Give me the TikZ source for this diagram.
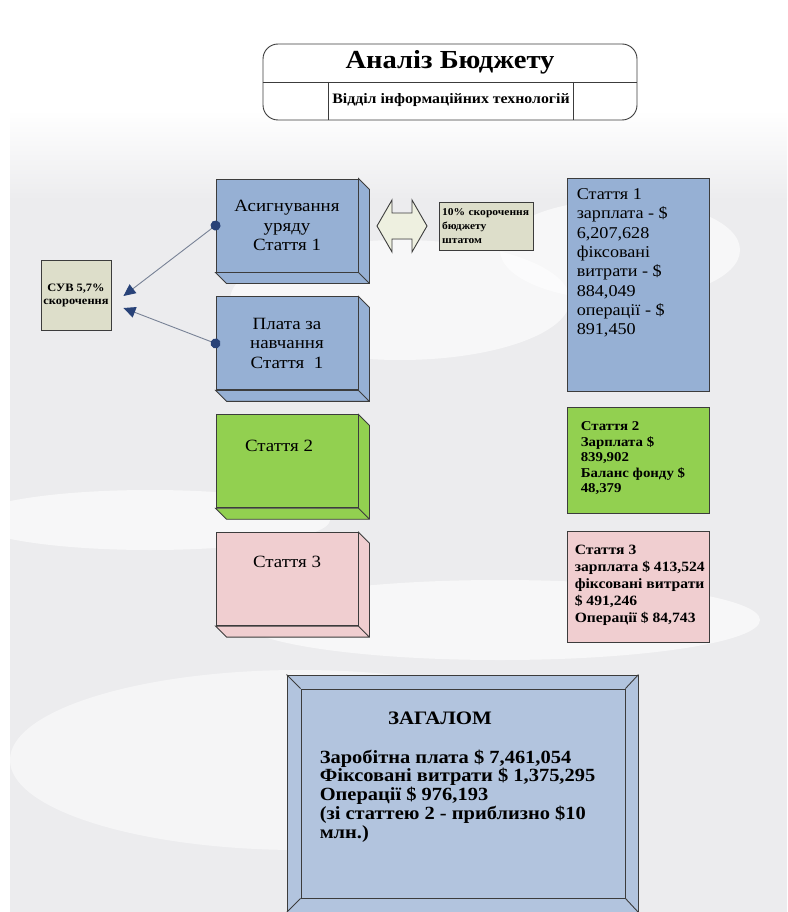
\documentclass[tikz,border=0pt]{standalone}
\usepackage{fontspec}
\setmainfont{Liberation Serif}[FakeStretch=1.1]
\usetikzlibrary{positioning,arrows.meta}

\definecolor{slabblue}{RGB}{150,176,212}
\definecolor{slabgreen}{RGB}{146,208,80}
\definecolor{slabpink}{RGB}{240,206,208}
\definecolor{notekhaki}{RGB}{221,222,202}
\definecolor{arrowfill}{RGB}{238,240,224}
\definecolor{totalblue}{RGB}{178,196,222}
\definecolor{navy}{RGB}{40,66,120}
\definecolor{edgegray}{RGB}{60,60,60}
\definecolor{linkgray}{RGB}{120,130,150}
\definecolor{cloud}{RGB}{236,236,238}

\begin{document}
\begin{tikzpicture}[
  x=1pt, y=-1pt,
  edge/.style={draw=edgegray, line width=0.9pt},
  slab/.style={edge, minimum width=142pt, minimum height=93pt,
               inner sep=0pt, align=center,
               font=\fontsize{17.2}{19.5}\selectfont},
  infobox/.style={edge, minimum width=142pt, inner sep=0pt},
  infotext/.style={inner sep=0pt, align=left},
  note/.style={edge, fill=notekhaki, inner sep=2pt, align=left,
               font=\bfseries\fontsize{10.5}{14}\selectfont},
  link/.style={draw=linkgray, line width=0.9pt, shorten <=-5pt,
               {Circle[length=10pt,color=navy]}-{Triangle[length=12pt,width=11pt,color=navy]}}
]
  \useasboundingbox (0,0) rectangle (787,912);
  % background
  \fill[white] (0,0) rectangle (787,912);
  \shade[top color=white, bottom color=cloud] (10,110) rectangle (787,200);
  \fill[cloud] (10,200) rectangle (787,912);
  \fill[white, opacity=0.6] (400,300) ellipse (170 and 60);
  \fill[white, opacity=0.6] (620,250) ellipse (120 and 50);
  \fill[white, opacity=0.6] (150,520) ellipse (180 and 30);
  \fill[white, opacity=0.6] (500,620) ellipse (260 and 40);
  \fill[white, opacity=0.5] (300,760) ellipse (290 and 90);

  % Title
  \node[edge, fill=white, rounded corners=15pt, minimum width=374pt,
        minimum height=76pt] (head) at (450,82) {};
  \draw[edge] (head.west) -- (head.east);
  \draw[edge] ([xshift=66pt]head.west) -- ([xshift=66pt]head.south west);
  \draw[edge] ([xshift=-64pt]head.east) -- ([xshift=-64pt]head.south east);
  \node[font=\bfseries\fontsize{26}{30}\selectfont] (ttl) at (450,62)
    {Аналіз Бюджету};
  \node[font=\bfseries\fontsize{14.4}{16}\selectfont] (dept) at (451,100)
    {Відділ інформаційних технологій};

  % Left column
  \node[slab, fill=slabblue] (asig) at (287,225.5)
    {Асигнування\\уряду\\Стаття 1};
  \node[slab, fill=slabblue, below=24pt of asig] (plata)
    {Плата за\\навчання\\Стаття~~1};
  \node[slab, fill=slabgreen, below=24pt of plata] (st2) {};
  \node[slab, fill=slabpink, below=24pt of st2] (st3) {};
  \node[font=\fontsize{17.2}{19.5}\selectfont, below=22pt of st2.north,
        xshift=-8pt] (st2txt) {Стаття 2};
  \node[font=\fontsize{17.2}{19.5}\selectfont, below=20pt of st3.north]
    (st3txt) {Стаття 3};
  \foreach \n/\c in {asig/slabblue, plata/slabblue, st2/slabgreen, st3/slabpink}
    \filldraw[edge, fill=\c] (\n.north east) -- ++(11,11)
      -- ([shift={(11,11)}]\n.south east) -- ([shift={(11,11)}]\n.south west)
      -- (\n.south west) -- (\n.south east) -- cycle
      (\n.south east) -- ([shift={(11,11)}]\n.south east);

  % Cut note
  \node[edge, fill=notekhaki, minimum width=70pt, minimum height=70pt,
        align=center, inner sep=1pt,
        font=\bfseries\fontsize{11.3}{13}\selectfont] (suv) at (76,295)
    {СУВ 5,7\%\\скорочення};
  \draw[link] (asig.west) -- ([xshift=12pt,yshift=-1pt]suv.east);
  \draw[link] (plata.west) -- ([xshift=12pt,yshift=-13pt]suv.east);

  % Two-way arrow and staff note
  \filldraw[edge, fill=arrowfill] (377,226) -- (392,200) -- (392,213)
    -- (412,213) -- (412,200) -- (427,226) -- (412,252) -- (412,239)
    -- (392,239) -- (392,252) -- cycle;
  \node[note, minimum width=94pt, minimum height=48pt, text width=88pt]
    (staff) at (486,226)
    {10\% скорочення\\бюджету\\штатом};

  % Right column
  \node[infobox, fill=slabblue, minimum height=213pt] (r1) at (638,284.5) {};
  \node[infobox, fill=slabgreen, minimum height=106pt, below=16pt of r1] (r2) {};
  \node[infobox, fill=slabpink, minimum height=111pt, below=17pt of r2] (r3) {};
  \node[infotext, font=\fontsize{16.5}{19.3}\selectfont,
        below right=11pt and 10pt of r1.north west] (r1txt)
    {Стаття 1\\зарплата - \$\\6,207,628\\фіксовані\\витрати - \$\\884,049\\операції - \$\\891,450};
  \node[infotext, font=\bfseries\fontsize{13.5}{15.5}\selectfont,
        below right=14pt and 14pt of r2.north west] (r2txt)
    {Стаття 2\\Зарплата \$\\839,902\\Баланс фонду \$\\48,379};
  \node[infotext, font=\bfseries\fontsize{14.2}{17}\selectfont,
        below right=14pt and 8pt of r3.north west] (r3txt)
    {Стаття 3\\зарплата \$ 413,524\\фіксовані витрати\\\$ 491,246\\Операції \$ 84,743};

  % Total
  \node[edge, fill=totalblue, minimum width=351pt, minimum height=237pt]
    (total) at (462.5,793.5) {};
  \node[edge, fill=totalblue, minimum width=324pt, minimum height=209pt]
    (totin) at (463,793.5) {};
  \foreach \c in {north west, north east, south west, south east}
    \draw[edge] (total.\c) -- (totin.\c);
  \node[font=\bfseries\fontsize{19}{22}\selectfont, below=20pt of totin.north,
        xshift=-23pt] (tothead) {ЗАГАЛОМ};
  \node[infotext, font=\bfseries\fontsize{18.6}{18.7}\selectfont,
        below right=61pt and 19pt of totin.north west] (totbody)
    {Заробітна плата \$ 7,461,054\\Фіксовані витрати \$ 1,375,295\\Операції \$ 976,193\\(зі статтею 2 - приблизно \$10\\млн.)};
\end{tikzpicture}
\end{document}
